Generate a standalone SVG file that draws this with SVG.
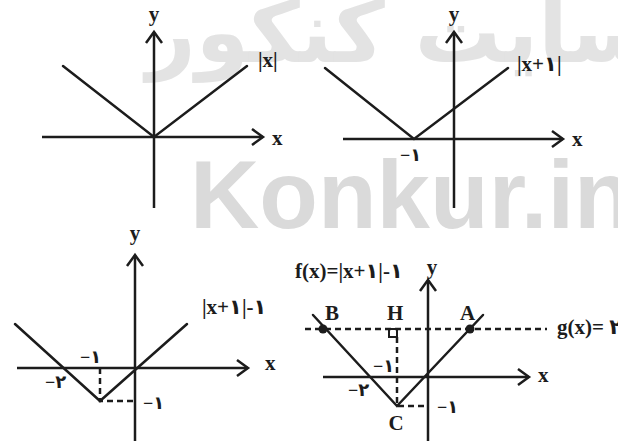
<svg xmlns="http://www.w3.org/2000/svg" width="618" height="441" viewBox="0 0 618 441">
<style>
.wm{font-family:"DejaVu Sans",sans-serif;font-weight:bold;fill:#e3e3e3}
.wm2{font-family:"Liberation Sans","DejaVu Sans",sans-serif;font-weight:bold;fill:#dadada}
.ax{stroke:#1c1c1c;stroke-width:2.5;fill:none}
.fn{stroke:#1c1c1c;stroke-width:2.5;fill:none;stroke-linecap:round}
.ds{stroke:#1c1c1c;stroke-width:2.5;fill:none;stroke-dasharray:6 4}
.t{font-family:"Liberation Serif","DejaVu Sans",serif;font-weight:bold;fill:#1c1c1c;font-size:21px}
.s{font-family:"Liberation Serif","DejaVu Sans",serif;font-weight:bold;fill:#1c1c1c;font-size:18px}
</style>
<defs>
<marker id="arr" markerUnits="userSpaceOnUse" markerWidth="24" markerHeight="24" refX="0" refY="0" orient="auto" style="overflow:visible">
<path d="M-11,-8 L0,0 L-11,8" fill="none" stroke="#1c1c1c" stroke-width="2.5"/>
</marker>
</defs>
<rect width="618" height="441" fill="#ffffff"/>
<g id="watermark">
<text class="wm" x="655" y="62" font-size="86" text-anchor="end">سایت کنکور</text>
<text class="wm2" x="190" y="228" font-size="96">Konkur.in</text>
</g>
<g id="graph1">
<line class="ax" x1="42" y1="137" x2="263" y2="137" marker-end="url(#arr)"/>
<line class="ax" x1="154" y1="208" x2="154" y2="32" marker-end="url(#arr)"/>
<polyline class="fn" points="63,66 154,137 247,66"/>
<text class="t" x="154" y="21" text-anchor="middle">y</text>
<text class="t" x="272" y="145">x</text>
<text class="t" x="258" y="67">|x|</text>
</g>
<g id="graph2">
<line class="ax" x1="343" y1="139" x2="563" y2="139" marker-end="url(#arr)"/>
<line class="ax" x1="454" y1="208" x2="454" y2="32" marker-end="url(#arr)"/>
<polyline class="fn" points="325,68 414,139 508,68"/>
<text class="t" x="454" y="21" text-anchor="middle">y</text>
<text class="t" x="572" y="146">x</text>
<text class="t" x="517" y="71">|x+۱|</text>
<text class="s" x="400" y="161">−۱</text>
</g>
<g id="graph3">
<line class="ax" x1="17" y1="368" x2="248" y2="368" marker-end="url(#arr)"/>
<line class="ax" x1="135" y1="441" x2="135" y2="255" marker-end="url(#arr)"/>
<polyline class="fn" points="15,324 100,401 187,324"/>
<polyline class="ds" points="100,368 100,401 135,401"/>
<text class="t" x="135" y="240" text-anchor="middle">y</text>
<text class="t" x="265" y="370">x</text>
<text class="t" x="202" y="314">|x+۱|-۱</text>
<text class="s" x="80" y="363">−۱</text>
<text class="s" x="45" y="388">−۲</text>
<text class="s" x="143" y="409">−۱</text>
</g>
<g id="graph4">
<line class="ax" x1="323" y1="377" x2="529" y2="377" marker-end="url(#arr)"/>
<line class="ax" x1="428" y1="441" x2="428" y2="280" marker-end="url(#arr)"/>
<line class="ds" x1="305" y1="329" x2="547" y2="329"/>
<polyline class="fn" points="313,315 397,406 483,315"/>
<polyline class="ds" points="397,337 397,406 428,406"/>
<rect x="389" y="329" width="8" height="8" fill="none" stroke="#1c1c1c" stroke-width="2"/>
<circle cx="323" cy="329" r="4.5" fill="#1c1c1c"/>
<circle cx="470" cy="329" r="4.5" fill="#1c1c1c"/>
<text class="t" x="295" y="278">f(x)=|x+۱|-۱</text>
<text class="t" x="432" y="274" text-anchor="middle">y</text>
<text class="t" x="538" y="382">x</text>
<text class="t" x="557" y="334">g(x)= ۲</text>
<text class="t" x="325" y="320">B</text>
<text class="t" x="387" y="320">H</text>
<text class="t" x="460" y="320">A</text>
<text class="t" x="396" y="430" text-anchor="middle">C</text>
<text class="s" x="373" y="372">−۱</text>
<text class="s" x="348" y="396">−۲</text>
<text class="s" x="437" y="413">−۱</text>
</g>
</svg>
